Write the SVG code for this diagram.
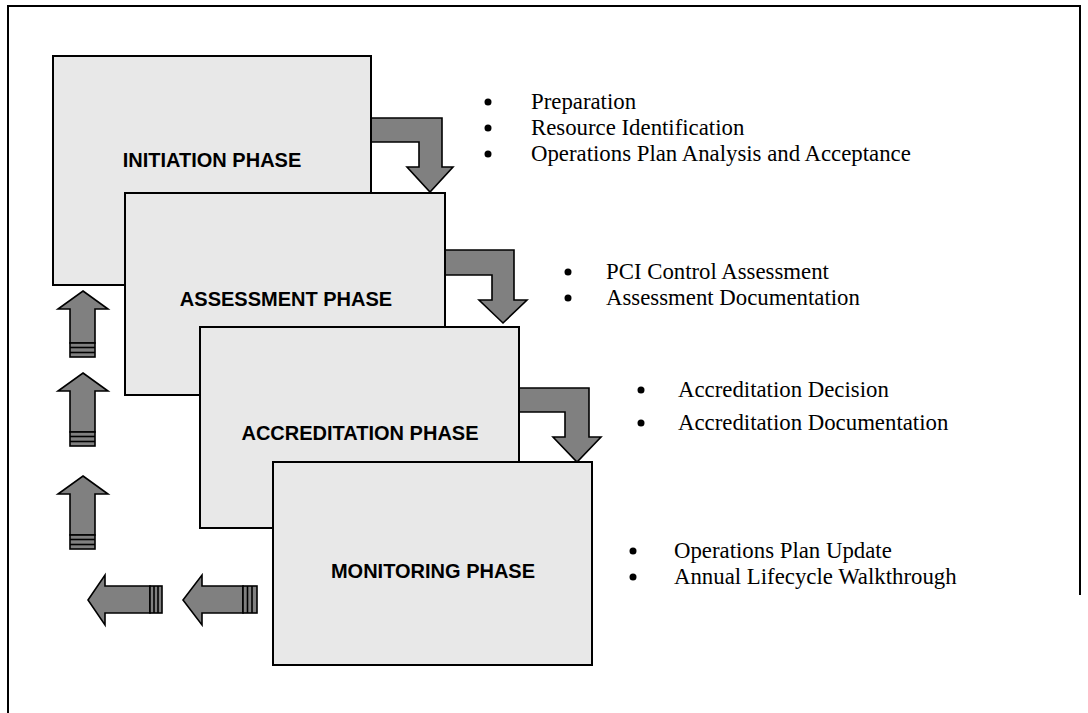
<svg xmlns="http://www.w3.org/2000/svg" width="1088" height="713" viewBox="0 0 1088 713">
<style>
.frame{fill:none;stroke:#000;stroke-width:2}
.box{fill:#e8e8e8;stroke:#000;stroke-width:2}
.arr{fill:#808080;stroke:#000;stroke-width:1.6;stroke-linejoin:miter}
.stripe{fill:none;stroke:#000;stroke-width:1.6}
.lbl{font-family:"Liberation Sans",Arial,sans-serif;font-weight:bold;font-size:20px;text-anchor:middle;fill:#000}
.itm{font-family:"Liberation Serif","Times New Roman",serif;font-size:22.8px;fill:#000}
.dot{fill:#000}
</style>
<rect width="1088" height="713" fill="#fff"/>
<path class="frame" d="M8,713 V6 H1080 V595"/>
<g id="connectors">
  <polygon class="arr" points="369,118 442,118 442,167 453,167 430,192 407,167 419,167 419,142 369,142"/>
  <polygon class="arr" points="443,250 514,250 514,300 527,300 503,323 479,300 492,300 492,275 443,275"/>
  <polygon class="arr" points="517,388 589,388 589,437 601,437 577,462 553,437 565,437 565,412 517,412"/>
  <g id="up1">
    <polygon class="arr" points="83,291 108,309 95,309 95,343 70,343 70,309 58,309"/>
    <rect class="arr" x="70" y="343" width="25" height="14"/>
    <line class="stripe" x1="70" y1="347.5" x2="95" y2="347.5"/>
    <line class="stripe" x1="70" y1="352.5" x2="95" y2="352.5"/>
  </g>
  <g id="up2">
    <polygon class="arr" points="83,373 108,391 95,391 95,432 70,432 70,391 58,391"/>
    <rect class="arr" x="70" y="432" width="25" height="14"/>
    <line class="stripe" x1="70" y1="436.5" x2="95" y2="436.5"/>
    <line class="stripe" x1="70" y1="441.5" x2="95" y2="441.5"/>
  </g>
  <g id="up3">
    <polygon class="arr" points="83,476 108,494 95,494 95,535 70,535 70,494 58,494"/>
    <rect class="arr" x="70" y="535" width="25" height="14"/>
    <line class="stripe" x1="70" y1="539.5" x2="95" y2="539.5"/>
    <line class="stripe" x1="70" y1="544.5" x2="95" y2="544.5"/>
  </g>
  <g id="left1">
    <polygon class="arr" points="88,600 105,575 105,586 150,586 150,613 105,613 105,625"/>
    <rect class="arr" x="150" y="586" width="12" height="27"/>
    <line class="stripe" x1="154" y1="586" x2="154" y2="613"/>
    <line class="stripe" x1="158" y1="586" x2="158" y2="613"/>
  </g>
  <g id="left2">
    <polygon class="arr" points="183,600 202,575 202,586 243,586 243,613 202,613 202,625"/>
    <rect class="arr" x="243" y="586" width="14" height="27"/>
    <line class="stripe" x1="247.5" y1="586" x2="247.5" y2="613"/>
    <line class="stripe" x1="252" y1="586" x2="252" y2="613"/>
  </g>
</g>
<g id="initiation">
  <rect class="box" x="53" y="56" width="318" height="229"/>
  <text class="lbl" x="212" y="167">INITIATION PHASE</text>
</g>
<g id="assessment">
  <rect class="box" x="125" y="193" width="320" height="202"/>
  <text class="lbl" x="286" y="306">ASSESSMENT PHASE</text>
</g>
<g id="accreditation">
  <rect class="box" x="200" y="327" width="319" height="201"/>
  <text class="lbl" x="360" y="440">ACCREDITATION PHASE</text>
</g>
<g id="monitoring">
  <rect class="box" x="273" y="462" width="319" height="203"/>
  <text class="lbl" x="433" y="578">MONITORING PHASE</text>
</g>
<g id="notes-initiation">
  <circle class="dot" cx="488" cy="102" r="3.5"/>
  <circle class="dot" cx="488" cy="128" r="3.5"/>
  <circle class="dot" cx="488" cy="154" r="3.5"/>
  <text class="itm" x="531" y="109">Preparation</text>
  <text class="itm" x="531" y="135">Resource Identification</text>
  <text class="itm" x="531" y="161">Operations Plan Analysis and Acceptance</text>
</g>
<g id="notes-assessment">
  <circle class="dot" cx="568" cy="272" r="3.5"/>
  <circle class="dot" cx="568" cy="298" r="3.5"/>
  <text class="itm" x="606" y="279">PCI Control Assessment</text>
  <text class="itm" x="606" y="305">Assessment Documentation</text>
</g>
<g id="notes-accreditation">
  <circle class="dot" cx="641" cy="390" r="3.5"/>
  <circle class="dot" cx="641" cy="423" r="3.5"/>
  <text class="itm" x="678" y="397">Accreditation Decision</text>
  <text class="itm" x="678" y="430">Accreditation Documentation</text>
</g>
<g id="notes-monitoring">
  <circle class="dot" cx="633" cy="551" r="3.5"/>
  <circle class="dot" cx="633" cy="577" r="3.5"/>
  <text class="itm" x="674" y="558">Operations Plan Update</text>
  <text class="itm" x="674" y="584">Annual Lifecycle Walkthrough</text>
</g>
</svg>
